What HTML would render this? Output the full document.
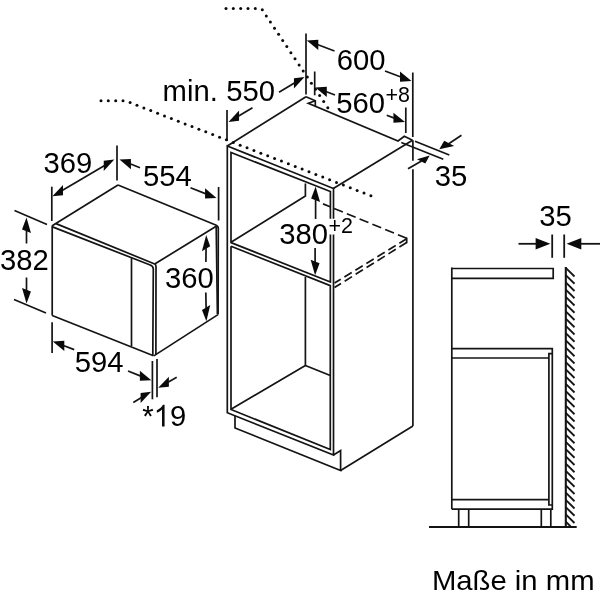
<!DOCTYPE html>
<html><head><meta charset="utf-8"><title>Maße</title>
<style>
html,body{margin:0;padding:0;background:#fff;}
body{width:600px;height:600px;overflow:hidden;}
svg{display:block;will-change:transform;}
svg line,svg polyline,svg path{stroke:#141414;fill:none;stroke-linecap:butt;stroke-linejoin:miter;}
svg text{font-family:"Liberation Sans",sans-serif;fill:#000;stroke:none;}
</style></head><body>
<svg width="600" height="600" viewBox="0 0 600 600">
<rect x="0" y="0" width="600" height="600" fill="#ffffff"/>
<line x1="118" y1="185" x2="52.2" y2="225.8" stroke-width="1.7" />
<path d="M118,185 L215.7,225 Q218.3,226 218.3,228.5 L218.1,314.5" stroke-width="1.7" />
<line x1="216.2" y1="226.3" x2="217.4" y2="314" stroke-width="1.7" />
<line x1="154.7" y1="264" x2="216.2" y2="226.3" stroke-width="1.7" />
<line x1="52.2" y1="225.5" x2="52.2" y2="315.5" stroke-width="1.7" />
<path d="M56,223.6 L154.7,264 Q156,264.6 156,266.5 L155.9,354.6" stroke-width="1.7" />
<path d="M52.5,226.9 L150.2,265 Q153.3,266.2 153.3,269 L152.8,355.6" stroke-width="1.7" />
<line x1="131.5" y1="258.2" x2="131.5" y2="346" stroke-width="1.7" />
<line x1="52.2" y1="315.5" x2="153.5" y2="355.8" stroke-width="1.7" />
<line x1="153.8" y1="355.9" x2="218" y2="314.6" stroke-width="1.7" />
<line x1="117" y1="145.5" x2="117" y2="180.4" stroke-width="1.7" />
<line x1="51.8" y1="186.7" x2="51.8" y2="221" stroke-width="1.7" />
<polygon points="52.40,196.30 63.00,195.16 63.00,184.96" fill="#0a0a0a" stroke="none"/>
<line x1="83" y1="178.3" x2="62.14" y2="190.57" stroke-width="1.7" />
<polygon points="114.30,159.60 103.74,171.01 103.74,160.81" fill="#0a0a0a" stroke="none"/>
<line x1="83" y1="178.3" x2="104.6" y2="165.4" stroke-width="1.7" />
<text transform="translate(43.40,173.00) scale(0.975,1.0)" font-size="30" >369</text>
<line x1="218.6" y1="187" x2="218.6" y2="220.5" stroke-width="1.7" />
<polygon points="119.50,159.50 130.92,169.17 130.92,158.97" fill="#0a0a0a" stroke="none"/>
<line x1="140" y1="167.7" x2="129.99" y2="163.7" stroke-width="1.7" />
<polygon points="216.50,198.00 205.06,198.57 205.06,188.37" fill="#0a0a0a" stroke="none"/>
<line x1="190.5" y1="187.7" x2="205.99" y2="193.84" stroke-width="1.7" />
<text transform="translate(142.90,185.70) scale(0.975,1.0)" font-size="30" >554</text>
<line x1="14.5" y1="210.5" x2="47" y2="224.5" stroke-width="1.7" />
<line x1="14" y1="299.5" x2="46" y2="313" stroke-width="1.7" />
<polygon points="26.50,217.50 30.96,233.07 22.04,229.53" fill="#0a0a0a" stroke="none"/>
<line x1="26.5" y1="243.5" x2="26.5" y2="230.3" stroke-width="1.7" />
<polygon points="26.50,303.50 30.96,291.47 22.04,287.93" fill="#0a0a0a" stroke="none"/>
<line x1="26.5" y1="277.5" x2="26.5" y2="290.7" stroke-width="1.7" />
<text transform="translate(0.10,270.20) scale(0.975,1.0)" font-size="30" >382</text>
<line x1="52.1" y1="322.3" x2="52.1" y2="353" stroke-width="1.7" />
<polygon points="52.80,341.40 64.29,350.90 64.29,340.70" fill="#0a0a0a" stroke="none"/>
<line x1="74.2" y1="349.6" x2="63.35" y2="345.44" stroke-width="1.7" />
<polygon points="151.30,380.30 139.88,380.84 139.88,370.64" fill="#0a0a0a" stroke="none"/>
<line x1="128" y1="371" x2="140.81" y2="376.11" stroke-width="1.7" />
<text transform="translate(74.80,372.20) scale(0.975,1.0)" font-size="30" >594</text>
<line x1="152.4" y1="361" x2="152.4" y2="399.3" stroke-width="1.7" />
<line x1="157" y1="359" x2="157" y2="397.3" stroke-width="1.7" />
<polygon points="151.20,391.70 140.64,403.11 140.64,392.91" fill="#0a0a0a" stroke="none"/>
<line x1="133.3" y1="402.4" x2="141.5" y2="397.5" stroke-width="1.7" />
<polygon points="158.20,387.80 168.90,386.83 168.90,376.63" fill="#0a0a0a" stroke="none"/>
<line x1="176.7" y1="377.3" x2="168.03" y2="382.22" stroke-width="1.7" />
<text transform="translate(142.30,426.40) scale(0.975,1.0)" font-size="30" >*</text>
<path d="M164.58,426.40 L162.00,426.40 L162.00,409.60 Q161.08,410.51 159.57,411.41 Q158.06,412.32 156.86,412.78 L156.86,410.23 Q159.02,409.19 160.63,407.71 Q162.25,406.23 162.92,404.84 L164.58,404.84 Z" fill="#0a0a0a" stroke="none" style="stroke:none;fill:#0a0a0a"/>
<text transform="translate(169.94,426.40) scale(0.975,1.0)" font-size="30" >9</text>
<polygon points="206.20,235.00 210.16,246.33 201.93,251.27" fill="#0a0a0a" stroke="none"/>
<line x1="205.9" y1="262" x2="206.06" y2="247.8" stroke-width="1.7" />
<polygon points="206.40,321.30 210.23,305.03 202.00,309.98" fill="#0a0a0a" stroke="none"/>
<line x1="205.8" y1="292.5" x2="206.13" y2="308.5" stroke-width="1.7" />
<text transform="translate(165.10,287.80) scale(0.975,1.0)" font-size="30" >360</text>
<line x1="306" y1="96.7" x2="227.3" y2="146" stroke-width="1.7" />
<line x1="333.3" y1="188.5" x2="412.5" y2="140.3" stroke-width="1.7" />
<polyline points="306,96.7 315.3,100.7 315.3,106" stroke-width="1.7" />
<polyline points="315.3,100.7 308.3,103.3 398,141 404.3,136.3 412.5,140.3" stroke-width="1.7" />
<line x1="415" y1="141.3" x2="449.3" y2="155" stroke-width="1.7" />
<line x1="401.3" y1="142.5" x2="443.3" y2="159.3" stroke-width="1.7" />
<line x1="412.8" y1="72.5" x2="412.8" y2="137" stroke-width="1.7" />
<line x1="412.9" y1="140.3" x2="412.9" y2="160.7" stroke-width="1.7" />
<line x1="412.9" y1="169.3" x2="412.9" y2="426" stroke-width="1.7" />
<polyline points="333.5,218.7 333.5,188.5 227.3,146 227.3,412.7 333.5,455 333.5,234.5" stroke-width="1.7" />
<polyline points="330.4,218.7 330.4,191.5 231,152.5 231,242.6 330.4,282 330.4,234.5" stroke-width="1.7" />
<polyline points="231,246.2 231,409.5 330.3,449.5 330.3,285.6 231,246.2" stroke-width="1.7" />
<polyline points="305.4,183.5 305.4,196 231,242.3" stroke-width="1.7" />
<polyline points="305.4,277 305.4,365.5 231,409.2" stroke-width="1.7" />
<line x1="305.4" y1="365.5" x2="330.3" y2="375.5" stroke-width="1.7" />
<polyline points="235,415.7 235,428 340.6,470.5 340.6,450.5 333.5,455" stroke-width="1.7" />
<line x1="340.6" y1="470.5" x2="412.9" y2="426" stroke-width="1.7" />
<line x1="406.7" y1="238.3" x2="323" y2="203.9" stroke-width="1.7" stroke-dasharray="9.5 4.3"/>
<line x1="406.7" y1="238.7" x2="334.5" y2="283" stroke-width="1.7" stroke-dasharray="8.6 4.3"/>
<line x1="406.7" y1="242.5" x2="334.5" y2="287.5" stroke-width="1.7" stroke-dasharray="8.6 4.3"/>
<line x1="406.7" y1="237.6" x2="406.7" y2="243.2" stroke-width="1.7" />
<line x1="306" y1="33.5" x2="306" y2="94.5" stroke-width="1.7" />
<line x1="314.7" y1="71.5" x2="314.7" y2="95.3" stroke-width="1.7" />
<line x1="405.8" y1="107.5" x2="405.8" y2="133" stroke-width="1.7" />
<line x1="227" y1="110" x2="227" y2="141" stroke-width="1.7" />
<polygon points="306.80,40.50 318.30,49.96 318.30,39.76" fill="#0a0a0a" stroke="none"/>
<line x1="334.5" y1="51" x2="317.37" y2="44.51" stroke-width="1.7" />
<polygon points="411.50,81.00 399.99,81.76 399.99,71.56" fill="#0a0a0a" stroke="none"/>
<line x1="385" y1="71" x2="400.93" y2="77.01" stroke-width="1.7" />
<text transform="translate(336.70,69.70) scale(0.975,1.0)" font-size="30" >600</text>
<polygon points="315.30,87.50 326.80,96.98 326.80,86.78" fill="#0a0a0a" stroke="none"/>
<line x1="335" y1="95" x2="325.86" y2="91.52" stroke-width="1.7" />
<polygon points="405.00,122.00 393.45,122.87 393.45,112.67" fill="#0a0a0a" stroke="none"/>
<line x1="386.7" y1="115.3" x2="394.39" y2="118.12" stroke-width="1.7" />
<text transform="translate(336.30,112.80) scale(0.975,1.0)" font-size="30" >560</text>
<text transform="translate(385.50,102.20) scale(0.975,1.0)" font-size="22" >+8</text>
<polygon points="228.50,122.00 239.07,120.80 239.07,110.60" fill="#0a0a0a" stroke="none"/>
<line x1="252.5" y1="107.7" x2="238.21" y2="116.22" stroke-width="1.7" />
<polygon points="304.50,77.00 293.95,88.43 293.95,78.23" fill="#0a0a0a" stroke="none"/>
<line x1="279" y1="92.3" x2="294.81" y2="82.81" stroke-width="1.7" />
<text transform="translate(162.60,100.70) scale(0.975,1.0)" font-size="30" >min.</text>
<text transform="translate(226.20,100.70) scale(0.975,1.0)" font-size="30" >550</text>
<polygon points="439.3,149.2 444.2,140.8 454.2,146.1" fill="#0a0a0a" stroke="none"/>
<line x1="461.5" y1="135.3" x2="448.34" y2="143.95" stroke-width="1.7" />
<polygon points="429.7,155.6 417.0,159.2 425.3,163.4" fill="#0a0a0a" stroke="none"/>
<line x1="408" y1="168.7" x2="421.98" y2="160.75" stroke-width="1.7" />
<text transform="translate(434.80,185.80) scale(0.975,1.0)" font-size="30" >35</text>
<polygon points="315.60,186.50 320.06,202.07 311.14,198.53" fill="#0a0a0a" stroke="none"/>
<line x1="315.6" y1="219" x2="315.6" y2="199.3" stroke-width="1.7" />
<polygon points="315.10,275.30 319.56,263.27 310.64,259.73" fill="#0a0a0a" stroke="none"/>
<line x1="315.1" y1="248" x2="315.1" y2="262.5" stroke-width="1.7" />
<text transform="translate(279.30,244.30) scale(0.975,1.0)" font-size="30" >380</text>
<text transform="translate(328.60,233.20) scale(0.975,1.0)" font-size="22" >+2</text>
<circle cx="101.00" cy="100.70" r="1.5" fill="#0a0a0a" stroke="none"/>
<circle cx="108.30" cy="100.70" r="1.5" fill="#0a0a0a" stroke="none"/>
<circle cx="115.70" cy="100.70" r="1.5" fill="#0a0a0a" stroke="none"/>
<circle cx="123.00" cy="100.70" r="1.5" fill="#0a0a0a" stroke="none"/>
<circle cx="130.10" cy="102.60" r="1.5" fill="#0a0a0a" stroke="none"/>
<circle cx="136.98" cy="105.26" r="1.5" fill="#0a0a0a" stroke="none"/>
<circle cx="143.86" cy="107.92" r="1.5" fill="#0a0a0a" stroke="none"/>
<circle cx="150.74" cy="110.58" r="1.5" fill="#0a0a0a" stroke="none"/>
<circle cx="157.62" cy="113.24" r="1.5" fill="#0a0a0a" stroke="none"/>
<circle cx="164.50" cy="115.90" r="1.5" fill="#0a0a0a" stroke="none"/>
<circle cx="171.38" cy="118.56" r="1.5" fill="#0a0a0a" stroke="none"/>
<circle cx="178.26" cy="121.22" r="1.5" fill="#0a0a0a" stroke="none"/>
<circle cx="185.14" cy="123.88" r="1.5" fill="#0a0a0a" stroke="none"/>
<circle cx="192.02" cy="126.54" r="1.5" fill="#0a0a0a" stroke="none"/>
<circle cx="198.90" cy="129.20" r="1.5" fill="#0a0a0a" stroke="none"/>
<circle cx="205.78" cy="131.86" r="1.5" fill="#0a0a0a" stroke="none"/>
<circle cx="212.66" cy="134.52" r="1.5" fill="#0a0a0a" stroke="none"/>
<circle cx="219.54" cy="137.18" r="1.5" fill="#0a0a0a" stroke="none"/>
<circle cx="226.42" cy="139.84" r="1.5" fill="#0a0a0a" stroke="none"/>
<circle cx="233.30" cy="142.50" r="1.5" fill="#0a0a0a" stroke="none"/>
<circle cx="240.18" cy="145.16" r="1.5" fill="#0a0a0a" stroke="none"/>
<circle cx="247.06" cy="147.82" r="1.5" fill="#0a0a0a" stroke="none"/>
<circle cx="253.94" cy="150.48" r="1.5" fill="#0a0a0a" stroke="none"/>
<circle cx="260.82" cy="153.14" r="1.5" fill="#0a0a0a" stroke="none"/>
<circle cx="267.70" cy="155.80" r="1.5" fill="#0a0a0a" stroke="none"/>
<circle cx="274.58" cy="158.46" r="1.5" fill="#0a0a0a" stroke="none"/>
<circle cx="281.46" cy="161.12" r="1.5" fill="#0a0a0a" stroke="none"/>
<circle cx="288.34" cy="163.78" r="1.5" fill="#0a0a0a" stroke="none"/>
<circle cx="295.22" cy="166.44" r="1.5" fill="#0a0a0a" stroke="none"/>
<circle cx="302.10" cy="169.10" r="1.5" fill="#0a0a0a" stroke="none"/>
<circle cx="308.98" cy="171.76" r="1.5" fill="#0a0a0a" stroke="none"/>
<circle cx="315.86" cy="174.42" r="1.5" fill="#0a0a0a" stroke="none"/>
<circle cx="322.74" cy="177.08" r="1.5" fill="#0a0a0a" stroke="none"/>
<circle cx="329.62" cy="179.74" r="1.5" fill="#0a0a0a" stroke="none"/>
<circle cx="336.50" cy="182.40" r="1.5" fill="#0a0a0a" stroke="none"/>
<circle cx="343.38" cy="185.06" r="1.5" fill="#0a0a0a" stroke="none"/>
<circle cx="350.26" cy="187.72" r="1.5" fill="#0a0a0a" stroke="none"/>
<circle cx="357.14" cy="190.38" r="1.5" fill="#0a0a0a" stroke="none"/>
<circle cx="364.02" cy="193.04" r="1.5" fill="#0a0a0a" stroke="none"/>
<circle cx="370.90" cy="195.70" r="1.5" fill="#0a0a0a" stroke="none"/>
<circle cx="226.00" cy="8.40" r="1.5" fill="#0a0a0a" stroke="none"/>
<circle cx="233.30" cy="8.40" r="1.5" fill="#0a0a0a" stroke="none"/>
<circle cx="240.70" cy="8.40" r="1.5" fill="#0a0a0a" stroke="none"/>
<circle cx="248.00" cy="8.40" r="1.5" fill="#0a0a0a" stroke="none"/>
<circle cx="255.30" cy="8.40" r="1.5" fill="#0a0a0a" stroke="none"/>
<circle cx="262.30" cy="9.70" r="1.5" fill="#0a0a0a" stroke="none"/>
<circle cx="266.30" cy="16.00" r="1.5" fill="#0a0a0a" stroke="none"/>
<circle cx="270.40" cy="22.11" r="1.5" fill="#0a0a0a" stroke="none"/>
<circle cx="274.50" cy="28.22" r="1.5" fill="#0a0a0a" stroke="none"/>
<circle cx="278.60" cy="34.33" r="1.5" fill="#0a0a0a" stroke="none"/>
<circle cx="282.70" cy="40.44" r="1.5" fill="#0a0a0a" stroke="none"/>
<circle cx="286.80" cy="46.55" r="1.5" fill="#0a0a0a" stroke="none"/>
<circle cx="290.90" cy="52.66" r="1.5" fill="#0a0a0a" stroke="none"/>
<circle cx="295.00" cy="58.77" r="1.5" fill="#0a0a0a" stroke="none"/>
<circle cx="299.10" cy="64.88" r="1.5" fill="#0a0a0a" stroke="none"/>
<circle cx="303.20" cy="70.99" r="1.5" fill="#0a0a0a" stroke="none"/>
<circle cx="307.30" cy="77.10" r="1.5" fill="#0a0a0a" stroke="none"/>
<circle cx="311.40" cy="83.21" r="1.5" fill="#0a0a0a" stroke="none"/>
<circle cx="315.50" cy="89.32" r="1.5" fill="#0a0a0a" stroke="none"/>
<circle cx="319.60" cy="95.43" r="1.5" fill="#0a0a0a" stroke="none"/>
<circle cx="323.70" cy="101.54" r="1.5" fill="#0a0a0a" stroke="none"/>
<circle cx="327.80" cy="107.65" r="1.5" fill="#0a0a0a" stroke="none"/>
<text transform="translate(539.30,225.90) scale(0.975,1.0)" font-size="30" >35</text>
<line x1="552.2" y1="234.5" x2="552.2" y2="257.8" stroke-width="1.8" />
<line x1="564.2" y1="234.5" x2="564.2" y2="257.8" stroke-width="1.8" />
<polygon points="550.30,243.80 535.60,249.55 535.60,238.05" fill="#0a0a0a" stroke="none"/>
<line x1="518.5" y1="243.8" x2="536.6" y2="243.8" stroke-width="1.8" />
<polygon points="566.60,243.80 581.30,238.05 581.30,249.55" fill="#0a0a0a" stroke="none"/>
<line x1="600" y1="243.8" x2="580.3" y2="243.8" stroke-width="1.8" />
<polyline points="451.5,268.5 553.2,268.5 553.2,278.3 451.5,278.3" stroke-width="1.7" />
<line x1="451.8" y1="267.5" x2="451.8" y2="509.2" stroke-width="1.7" />
<polyline points="451.8,348.7 552.3,348.7 552.3,509.2 451.8,509.2" stroke-width="1.7" />
<polyline points="451.8,358 548.9,358" stroke-width="1.7" />
<polyline points="552.3,353.7 548.9,353.7 548.9,505 552.3,505" stroke-width="1.7" />
<line x1="451.8" y1="499.7" x2="548.9" y2="499.7" stroke-width="1.7" />
<line x1="458.7" y1="509.2" x2="458.7" y2="527" stroke-width="1.7" />
<line x1="468.7" y1="509.2" x2="468.7" y2="527" stroke-width="1.7" />
<line x1="541.3" y1="509.2" x2="541.3" y2="527" stroke-width="1.7" />
<line x1="550.8" y1="509.2" x2="550.8" y2="527" stroke-width="1.7" />
<line x1="429" y1="527" x2="576.7" y2="527" stroke-width="1.8" />
<line x1="565.8" y1="267" x2="565.8" y2="527" stroke-width="2.1" />
<line x1="565.8" y1="267.9" x2="574.5" y2="276.5" stroke-width="1.8" />
<line x1="565.8" y1="275.15" x2="574.5" y2="283.75" stroke-width="1.8" />
<line x1="565.8" y1="282.4" x2="574.5" y2="291.0" stroke-width="1.8" />
<line x1="565.8" y1="289.65" x2="574.5" y2="298.25" stroke-width="1.8" />
<line x1="565.8" y1="296.9" x2="574.5" y2="305.5" stroke-width="1.8" />
<line x1="565.8" y1="304.15" x2="574.5" y2="312.75" stroke-width="1.8" />
<line x1="565.8" y1="311.4" x2="574.5" y2="320.0" stroke-width="1.8" />
<line x1="565.8" y1="318.65" x2="574.5" y2="327.25" stroke-width="1.8" />
<line x1="565.8" y1="325.9" x2="574.5" y2="334.5" stroke-width="1.8" />
<line x1="565.8" y1="333.15" x2="574.5" y2="341.75" stroke-width="1.8" />
<line x1="565.8" y1="340.4" x2="574.5" y2="349.0" stroke-width="1.8" />
<line x1="565.8" y1="347.65" x2="574.5" y2="356.25" stroke-width="1.8" />
<line x1="565.8" y1="354.9" x2="574.5" y2="363.5" stroke-width="1.8" />
<line x1="565.8" y1="362.15" x2="574.5" y2="370.75" stroke-width="1.8" />
<line x1="565.8" y1="369.4" x2="574.5" y2="378.0" stroke-width="1.8" />
<line x1="565.8" y1="376.65" x2="574.5" y2="385.25" stroke-width="1.8" />
<line x1="565.8" y1="383.9" x2="574.5" y2="392.5" stroke-width="1.8" />
<line x1="565.8" y1="391.15" x2="574.5" y2="399.75" stroke-width="1.8" />
<line x1="565.8" y1="398.4" x2="574.5" y2="407.0" stroke-width="1.8" />
<line x1="565.8" y1="405.65" x2="574.5" y2="414.25" stroke-width="1.8" />
<line x1="565.8" y1="412.9" x2="574.5" y2="421.5" stroke-width="1.8" />
<line x1="565.8" y1="420.15" x2="574.5" y2="428.75" stroke-width="1.8" />
<line x1="565.8" y1="427.4" x2="574.5" y2="436.0" stroke-width="1.8" />
<line x1="565.8" y1="434.65" x2="574.5" y2="443.25" stroke-width="1.8" />
<line x1="565.8" y1="441.9" x2="574.5" y2="450.5" stroke-width="1.8" />
<line x1="565.8" y1="449.15" x2="574.5" y2="457.75" stroke-width="1.8" />
<line x1="565.8" y1="456.4" x2="574.5" y2="465.0" stroke-width="1.8" />
<line x1="565.8" y1="463.65" x2="574.5" y2="472.25" stroke-width="1.8" />
<line x1="565.8" y1="470.9" x2="574.5" y2="479.5" stroke-width="1.8" />
<line x1="565.8" y1="478.15" x2="574.5" y2="486.75" stroke-width="1.8" />
<line x1="565.8" y1="485.4" x2="574.5" y2="494.0" stroke-width="1.8" />
<line x1="565.8" y1="492.65" x2="574.5" y2="501.25" stroke-width="1.8" />
<line x1="565.8" y1="499.9" x2="574.5" y2="508.5" stroke-width="1.8" />
<line x1="565.8" y1="507.15" x2="574.5" y2="515.75" stroke-width="1.8" />
<line x1="565.8" y1="514.4" x2="574.5" y2="523.0" stroke-width="1.8" />
<line x1="565.8" y1="521.65" x2="570.65" y2="526.5" stroke-width="1.8" />
<text transform="translate(431.90,590.20) scale(1.006,0.95)" font-size="29.1" >Maße in mm</text>
</svg>
</body></html>
